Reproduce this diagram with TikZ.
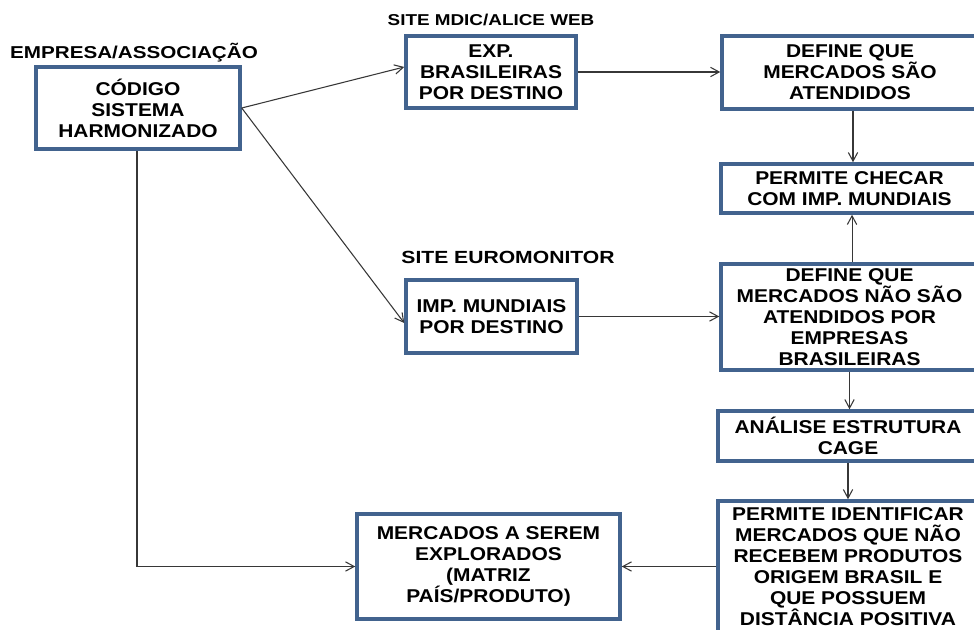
\documentclass[tikz,border=0pt]{standalone}
\usepackage{fontspec}
\setmainfont{Liberation Sans}[FakeStretch=1.13]
\newfontfamily\labfont{Liberation Sans}[FakeStretch=1.2]
\usetikzlibrary{arrows.meta}
\definecolor{boxblue}{RGB}{66,99,142}
\definecolor{linegray}{RGB}{55,55,55}
\tikzset{
  flowbox/.style={draw=boxblue, line width=2.6pt, fill=white, inner sep=0pt, align=center,
    font=\fontsize{13.9pt}{15.75pt}\selectfont\bfseries},
  toplabel/.style={anchor=base, inner sep=0pt, font=\labfont\bfseries},
  arr/.style={draw=linegray, line width=0.8pt, -{Straight Barb[length=6.5pt,width=7pt]}},
  plain/.style={draw=linegray, line width=0.8pt}
}
\begin{document}
\begin{tikzpicture}[x=0.75pt, y=-0.75pt]
\useasboundingbox (0,0) rectangle (974,630);
\clip (0,0) rectangle (974,630);

% labels
\node[toplabel, font=\labfont\bfseries\fontsize{12.9pt}{14pt}\selectfont] (lab1) at (134,59) {EMPRESA/ASSOCIAÇÃO};
\node[toplabel, font=\labfont\bfseries\fontsize{11.8pt}{14pt}\selectfont] (lab2) at (491,26) {SITE MDIC/ALICE WEB};
\node[toplabel, font=\labfont\bfseries\fontsize{13.2pt}{14pt}\selectfont] (lab3) at (508,264) {SITE EUROMONITOR};

% boxes
\node[flowbox, minimum width={204*0.75pt}, minimum height={82*0.75pt}] (code) at (138,108) {CÓDIGO\\SISTEMA\\HARMONIZADO};
\node[flowbox, minimum width={170*0.75pt}, minimum height={72*0.75pt}] (exp) at (491,72) {EXP.\\BRASILEIRAS\\POR DESTINO};
\node[flowbox, minimum width={171*0.75pt}, minimum height={73*0.75pt}] (imp) at (491.5,316.5) {IMP. MUNDIAIS\\POR DESTINO};
\node[flowbox, minimum width={256*0.75pt}, minimum height={73*0.75pt}] (def1) at (850,72.5) {DEFINE QUE\\MERCADOS SÃO\\ATENDIDOS};
\node[flowbox, minimum width={257*0.75pt}, minimum height={49*0.75pt}] (chk) at (849.5,188.5) {PERMITE CHECAR\\COM IMP. MUNDIAIS};
\node[flowbox, minimum width={257*0.75pt}, minimum height={106*0.75pt}] (def2) at (849.5,317) {DEFINE QUE\\MERCADOS NÃO SÃO\\ATENDIDOS POR\\EMPRESAS\\BRASILEIRAS};
\node[flowbox, minimum width={260*0.75pt}, minimum height={50*0.75pt}] (ana) at (848,436) {ANÁLISE ESTRUTURA\\CAGE};
\node[flowbox, minimum width={260*0.75pt}, minimum height={132*0.75pt}] (perm) at (848,567) {PERMITE IDENTIFICAR\\MERCADOS QUE NÃO\\RECEBEM PRODUTOS\\ORIGEM BRASIL E\\QUE POSSUEM\\DISTÂNCIA POSITIVA};
\node[flowbox, minimum width={263*0.75pt}, minimum height={105*0.75pt}] (merc) at (488.5,566.5) {MERCADOS A SEREM\\EXPLORADOS\\(MATRIZ\\PAÍS/PRODUTO)};

% connectors
\draw[arr] (code.east) -- ([yshift=3.75pt]exp.west);
\draw[arr] (code.east) -- ([yshift=-4.9pt]imp.west);
\draw[arr] (exp.east) -- (exp.east -| def1.west);
\draw[arr] (imp.east) -- (imp.east -| def2.west);
\draw[arr] ([xshift=2.25pt]def1.south) -- ([xshift=2.25pt]def1.south |- chk.north);
\draw[arr] ([xshift=1.9pt]def2.north) -- ([xshift=1.9pt]def2.north |- chk.south);
\draw[arr] (def2.south) -- (def2.south |- ana.north);
\draw[arr] (ana.south) -- (ana.south |- perm.north);
\draw[arr] (perm.west |- merc.east) -- (merc.east);
\draw[arr] ([xshift=-0.75pt]code.south) |- (merc.west);
\end{tikzpicture}
\end{document}
